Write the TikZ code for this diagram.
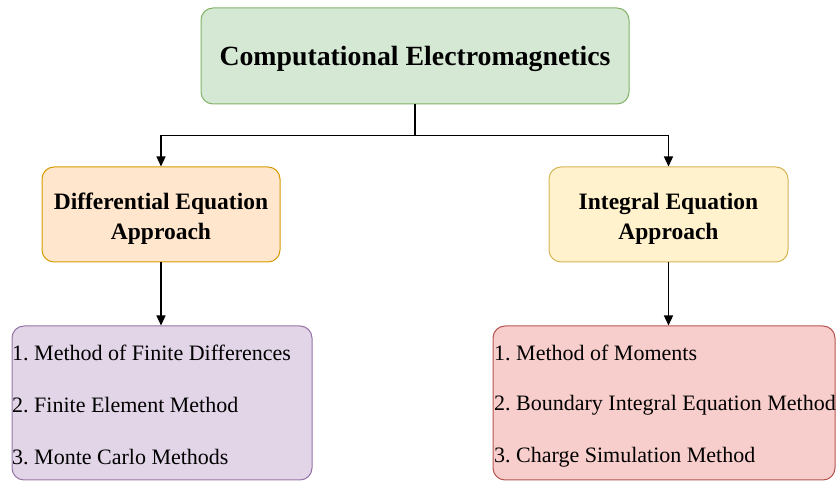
\documentclass[tikz,border=0pt]{standalone}
\usepackage{fontspec}
\setmainfont{Liberation Serif}
\usetikzlibrary{arrows.meta}
\frenchspacing
\begin{document}
\begin{tikzpicture}[x=1pt,y=1pt,
  box/.style={draw, rounded corners=12pt, line width=1pt, inner sep=0pt, align=center},
  head/.style={font=\fontsize{23.5}{30}\selectfont\bfseries},
  item/.style={anchor=west, inner sep=0pt, font=\fontsize{22}{26}\selectfont},
  link/.style={line width=1.3pt, -{Triangle[length=10pt,width=9pt]}}
]
\definecolor{gfill}{HTML}{D5E8D4}\definecolor{gline}{HTML}{82B366}
\definecolor{ofill}{HTML}{FFE6CC}\definecolor{oline}{HTML}{D79B00}
\definecolor{yfill}{HTML}{FFF2CC}\definecolor{yline}{HTML}{D6B656}
\definecolor{pfill}{HTML}{E1D5E7}\definecolor{pline}{HTML}{9673A6}
\definecolor{rfill}{HTML}{F8CECC}\definecolor{rline}{HTML}{B85450}
\useasboundingbox (0,0) rectangle (836,484);

% top level
\node[box, fill=gfill, draw=gline, minimum width=428pt, minimum height=96pt] (cem) at (415,428) {};
\node[font=\fontsize{27.8}{32}\selectfont\bfseries, inner sep=0pt] (cemtxt) at (415,425) {Computational Electromagnetics};

% two approaches
\node[box, fill=ofill, draw=oline, minimum width=238pt, minimum height=95pt] (dea) at (161,269.5) {};
\node[head, align=center, inner sep=0pt] (deatxt) at (161,265.5) {Differential Equation\\Approach};
\node[box, fill=yfill, draw=yline, minimum width=239pt, minimum height=95pt] (iea) at (668.5,269.5) {};
\node[head, align=center, inner sep=0pt] (ieatxt) at (668.5,265.5) {Integral Equation\\Approach};

% method lists
\node[box, fill=pfill, draw=pline, minimum width=300pt, minimum height=154pt] (dlist) at (162,81) {};
\node[box, fill=rfill, draw=rline, minimum width=342pt, minimum height=154pt] (ilist) at (664,81) {};

\node[item] (d1) at (12,131) {1. Method of Finite Differences};
\node[item] (d2) at (12,79) {2. Finite Element Method};
\node[item] (d3) at (12,27) {3. Monte Carlo Methods};

\node[item] (i1) at (494,131) {1. Method of Moments};
\node[item] (i2) at (494,79) {2. Boundary Integral Equation Method};
\node[item] (i3) at (494,27) {3. Charge Simulation Method};

% connectors
\coordinate (split) at ([yshift=-31pt]cem.south);
\draw[line width=1.3pt] (cem.south) -- (split);
\draw[link] (split) -| (dea.north);
\draw[link] (split) -| (iea.north);
\draw[link] (dea.south) -- (dlist.north -| dea.south);
\draw[link] (iea.south) -- (ilist.north -| iea.south);
\end{tikzpicture}
\end{document}
